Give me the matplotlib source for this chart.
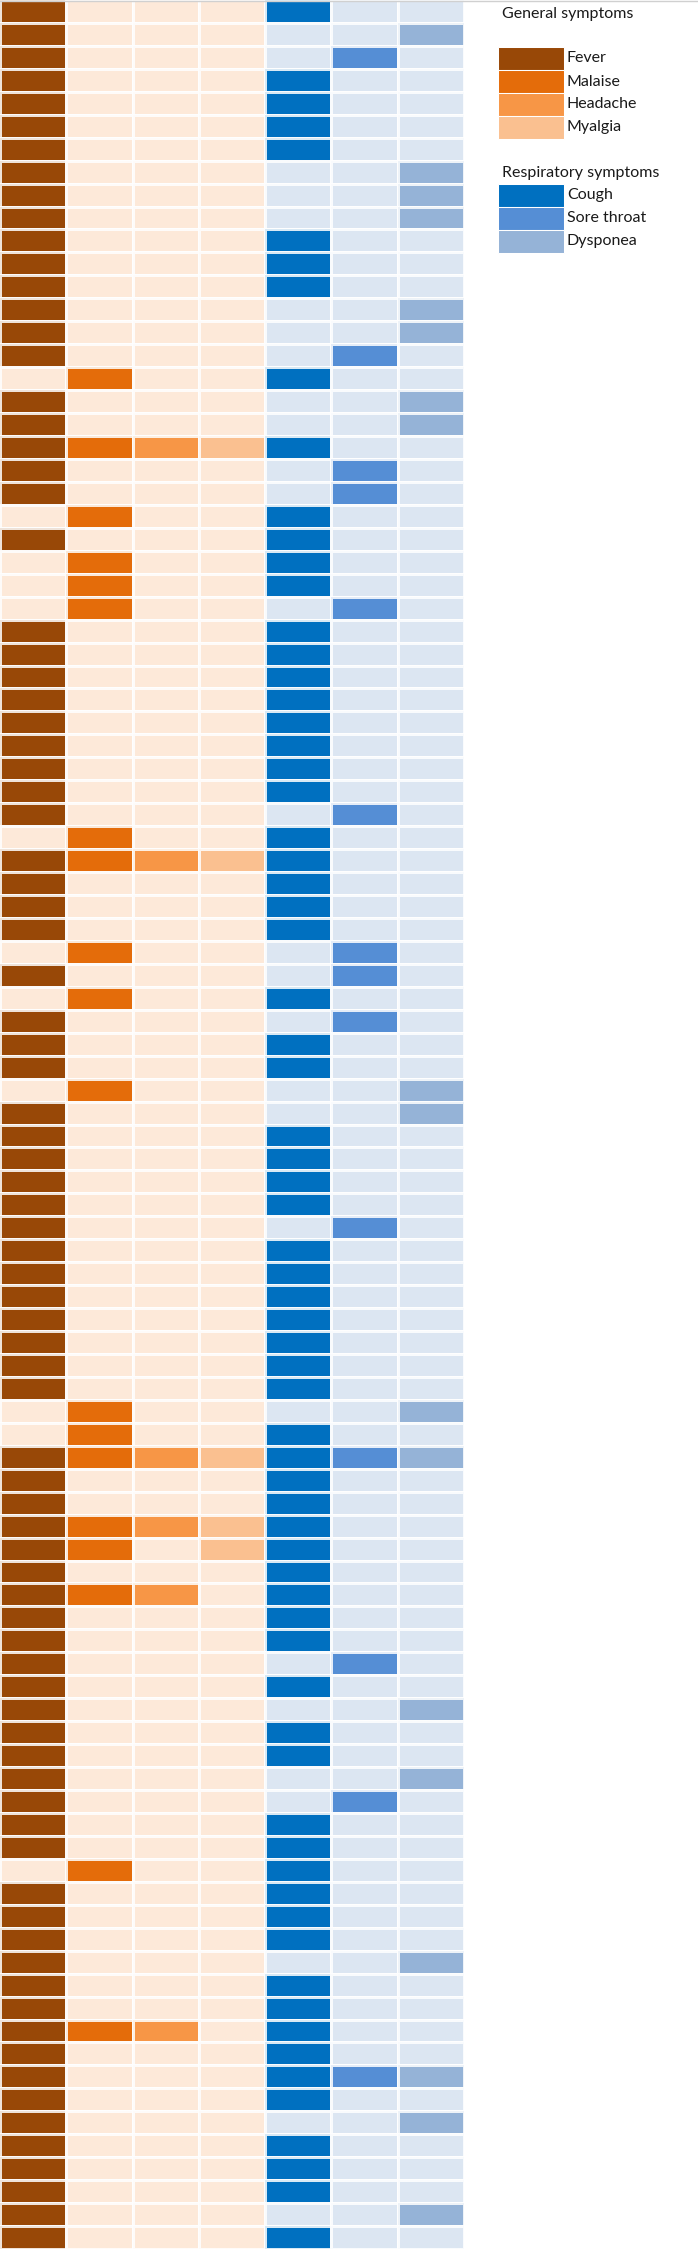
import numpy as np
import matplotlib
matplotlib.use("Agg")
import matplotlib.pyplot as plt
from matplotlib.colors import ListedColormap, BoundaryNorm
from matplotlib.patches import Rectangle
from matplotlib.lines import Line2D

plt.rcParams['font.family'] = ['Lato', 'DejaVu Sans']

# ---------------- data (one entry per patient, top to bottom) ----------------
general_symptoms = ["Fever", "Malaise", "Headache", "Myalgia"]
respiratory_symptoms = ["Cough", "Sore throat", "Dysponea"]

fever = [1,1,1,1,1,1,1,1,1,1,
         1,1,1,1,1,1,0,1,1,1,
         1,1,0,1,0,0,0,1,1,1,
         1,1,1,1,1,1,0,1,1,1,
         1,0,1,0,1,1,1,0,1,1,
         1,1,1,1,1,1,1,1,1,1,
         1,0,0,1,1,1,1,1,1,1,
         1,1,1,1,1,1,1,1,1,1,
         1,0,1,1,1,1,1,1,1,1,
         1,1,1,1,1,1,1,1]
malaise = [0,0,0,0,0,0,0,0,0,0,
           0,0,0,0,0,0,1,0,0,1,
           0,0,1,0,1,1,1,0,0,0,
           0,0,0,0,0,0,1,1,0,0,
           0,1,0,1,0,0,0,1,0,0,
           0,0,0,0,0,0,0,0,0,0,
           0,1,1,1,0,0,1,1,0,1,
           0,0,0,0,0,0,0,0,0,0,
           0,1,0,0,0,0,0,0,1,0,
           0,0,0,0,0,0,0,0]
headache = [0,0,0,0,0,0,0,0,0,0,
            0,0,0,0,0,0,0,0,0,1,
            0,0,0,0,0,0,0,0,0,0,
            0,0,0,0,0,0,0,1,0,0,
            0,0,0,0,0,0,0,0,0,0,
            0,0,0,0,0,0,0,0,0,0,
            0,0,0,1,0,0,1,0,0,1,
            0,0,0,0,0,0,0,0,0,0,
            0,0,0,0,0,0,0,0,1,0,
            0,0,0,0,0,0,0,0]
myalgia = [0,0,0,0,0,0,0,0,0,0,
           0,0,0,0,0,0,0,0,0,1,
           0,0,0,0,0,0,0,0,0,0,
           0,0,0,0,0,0,0,1,0,0,
           0,0,0,0,0,0,0,0,0,0,
           0,0,0,0,0,0,0,0,0,0,
           0,0,0,1,0,0,1,1,0,0,
           0,0,0,0,0,0,0,0,0,0,
           0,0,0,0,0,0,0,0,0,0,
           0,0,0,0,0,0,0,0]
cough = [1,0,0,1,1,1,1,0,0,0,
         1,1,1,0,0,0,1,0,0,1,
         0,0,1,1,1,1,0,1,1,1,
         1,1,1,1,1,0,1,1,1,1,
         1,0,0,1,0,1,1,0,0,1,
         1,1,1,0,1,1,1,1,1,1,
         1,0,1,1,1,1,1,1,1,1,
         1,1,0,1,0,1,1,0,0,1,
         1,1,1,1,1,0,1,1,1,1,
         1,1,0,1,1,1,0,1]
sore_throat = [0,0,1,0,0,0,0,0,0,0,
               0,0,0,0,0,1,0,0,0,0,
               1,1,0,0,0,0,1,0,0,0,
               0,0,0,0,0,1,0,0,0,0,
               0,1,1,0,1,0,0,0,0,0,
               0,0,0,1,0,0,0,0,0,0,
               0,0,0,1,0,0,0,0,0,0,
               0,0,1,0,0,0,0,0,1,0,
               0,0,0,0,0,0,0,0,0,0,
               1,0,0,0,0,0,0,0]
dysponea = [0,1,0,0,0,0,0,1,1,1,
            0,0,0,1,1,0,0,1,1,0,
            0,0,0,0,0,0,0,0,0,0,
            0,0,0,0,0,0,0,0,0,0,
            0,0,0,0,0,0,0,1,1,0,
            0,0,0,0,0,0,0,0,0,0,
            0,1,0,1,0,0,0,0,0,0,
            0,0,0,0,1,0,0,1,0,0,
            0,0,0,0,0,1,0,0,0,0,
            1,0,1,0,0,0,1,0]

# ---------------- colours ----------------
bg_orange = "#FDE9D9"
bg_blue = "#DCE6F2"
sym_colors = {"Fever": "#984807", "Malaise": "#E46C0A", "Headache": "#F79646",
              "Myalgia": "#FAC090", "Cough": "#0070C0", "Sore throat": "#558ED5",
              "Dysponea": "#95B3D7"}

columns = [fever, malaise, headache, myalgia, cough, sore_throat, dysponea]
n_rows = len(fever)
n_cols = len(columns)

# code matrix: 0 = orange background, 1..4 general, 5 = blue background, 6..8 respiratory
codes = np.zeros((n_rows, n_cols), dtype=int)
for j, col in enumerate(columns):
    arr = np.array(col)
    if j < 4:
        codes[:, j] = np.where(arr == 1, j + 1, 0)
    else:
        codes[:, j] = np.where(arr == 1, j + 2, 5)

cmap = ListedColormap([bg_orange] + [sym_colors[n] for n in general_symptoms] +
                      [bg_blue] + [sym_colors[n] for n in respiratory_symptoms])
norm = BoundaryNorm(np.arange(-0.5, 9.5, 1), cmap.N)

W, H = 698, 2249
fig = plt.figure(figsize=(W / 100, H / 100), dpi=100)
fig.patch.set_facecolor("white")

grid_w = 464
ax = fig.add_axes([0, 0, grid_w / W, 1])
ax.pcolormesh(np.arange(n_cols + 1), np.arange(n_rows + 1), codes, cmap=cmap, norm=norm,
              edgecolors=(1, 1, 1, 0.85), linewidth=0.75)
ax.set_xlim(0, n_cols)
ax.set_ylim(n_rows, 0)
ax.axis("off")

# ---------------- legend (pixel coordinates) ----------------
lg = fig.add_axes([0, 0, 1, 1], facecolor="none")
lg.set_xlim(0, W)
lg.set_ylim(H, 0)
lg.axis("off")

sw_x, sw_w, sw_h = 498, 66, 23
lbl_x = 567
fs = 11.5
tc = "#1a1a1a"

lg.text(502, 14, "General symptoms", fontsize=fs, va="center", ha="left", color=tc)
y0 = 47
for i, n in enumerate(general_symptoms):
    y = y0 + i * sw_h
    lg.add_patch(Rectangle((sw_x, y), sw_w, sw_h, facecolor=sym_colors[n],
                           edgecolor="white", linewidth=0.75))
    lg.text(lbl_x, y + sw_h / 2, n, fontsize=fs, va="center", ha="left", color=tc)

lg.text(502, 173, "Respiratory symptoms", fontsize=fs, va="center", ha="left", color=tc)
y0 = 184
for i, n in enumerate(respiratory_symptoms):
    y = y0 + i * sw_h
    lg.add_patch(Rectangle((sw_x, y), sw_w, sw_h, facecolor=sym_colors[n],
                           edgecolor="white", linewidth=0.75))
    lg.text(lbl_x, y + sw_h / 2, n, fontsize=fs, va="center", ha="left", color=tc)

# thin light border at the very top
fig.add_artist(Line2D([0, 1], [1 - 0.5 / H, 1 - 0.5 / H], color="#d0d0d0", linewidth=1.0,
                      transform=fig.transFigure))

fig.savefig("out.png", dpi=100, facecolor="white")
